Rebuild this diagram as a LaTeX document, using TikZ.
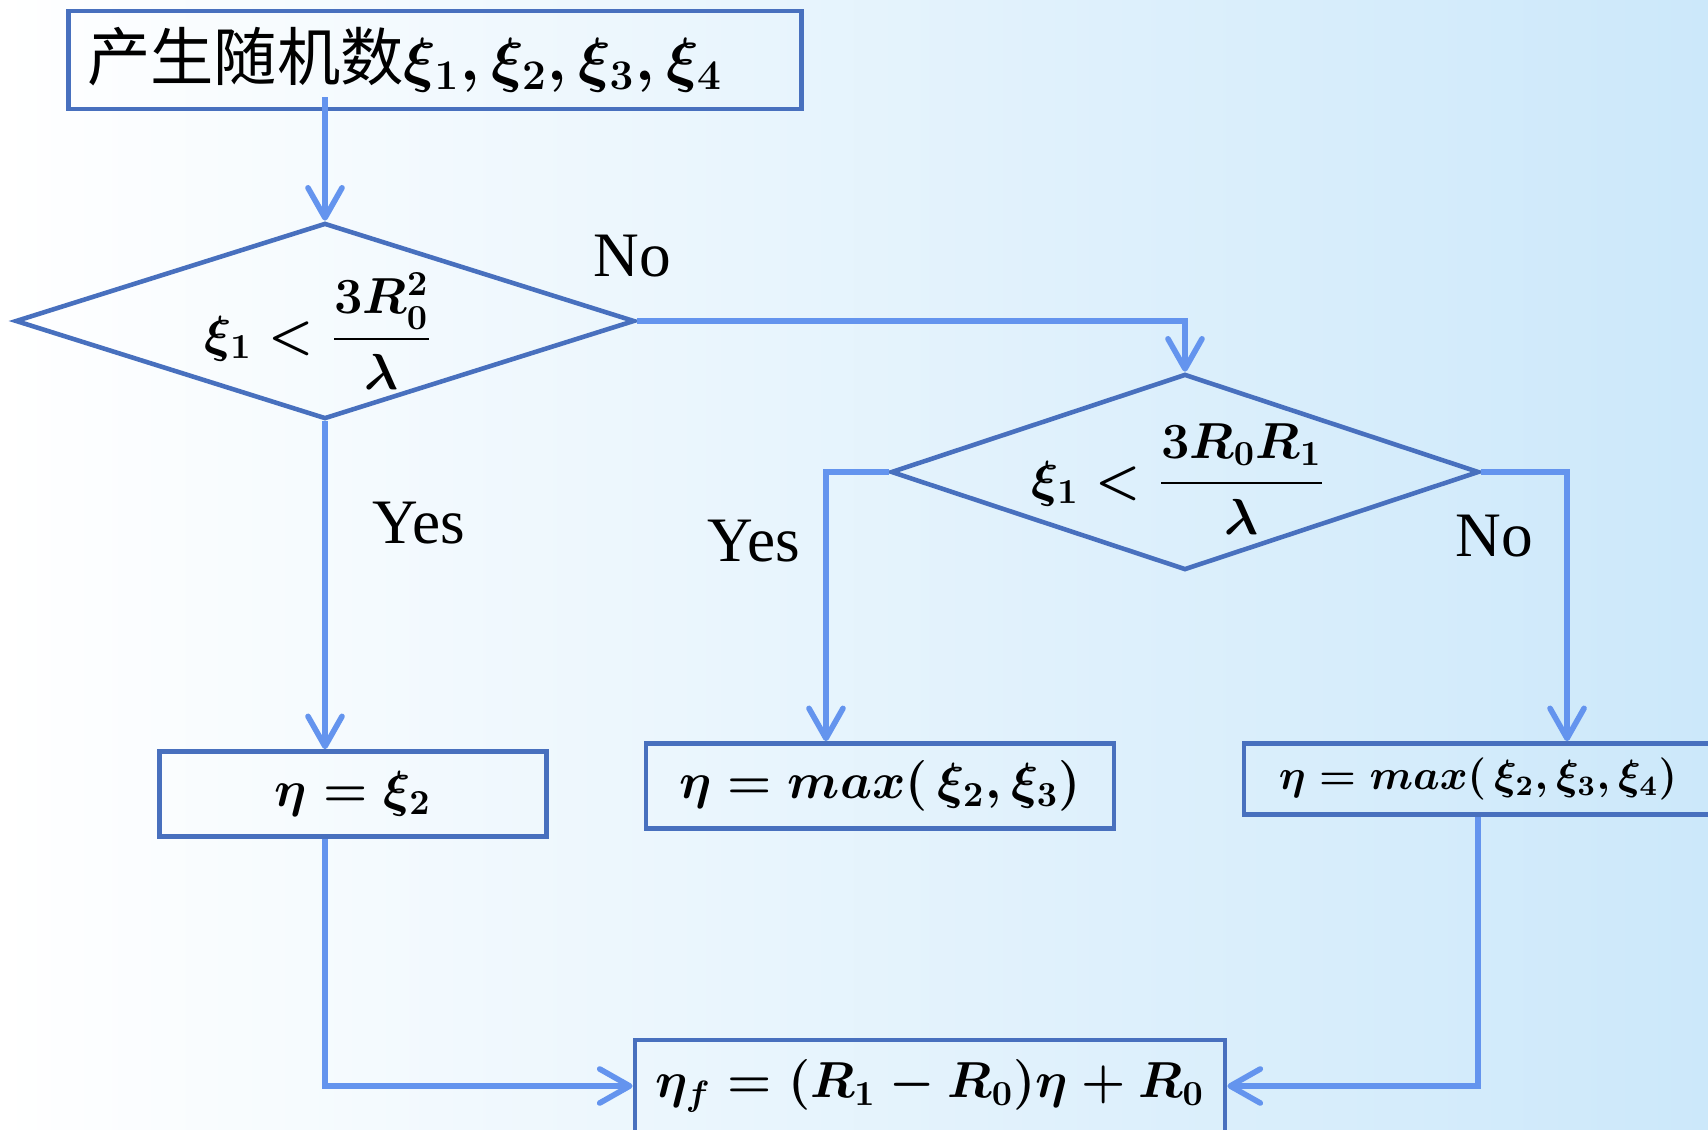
\documentclass[tikz,border=0pt]{standalone}
\usepackage{amsmath}
\usepackage{fontspec}
\setmainfont{Liberation Serif}
\newfontfamily\cjk{Noto Sans CJK SC}
\usetikzlibrary{shapes.geometric,arrows.meta}

\definecolor{boxblue}{RGB}{72,112,190}
\definecolor{arrblue}{RGB}{100,148,238}
\definecolor{bgblue}{RGB}{204,232,250}

\begin{document}
\begin{tikzpicture}[x=0.01cm, y=-0.01cm,
  box/.style={draw=boxblue, line width=1.3pt, inner sep=0pt, font=\fontsize{14}{17}\selectfont\boldmath},
  cond/.style={diamond, draw=boxblue, line width=1.3pt, inner sep=0pt},
  condtext/.style={font=\fontsize{14}{17}\selectfont\boldmath},
  arr/.style={draw=arrblue, line width=1.6pt, -{Straight Barb[length=3mm,width=3.4mm,round]}},
  lbl/.style={font=\fontsize{18}{20}\selectfont}]
% background, white to light blue
\shade[left color=white, right color=bgblue] (0,0) rectangle (1708,1130);
\useasboundingbox (0,0) rectangle (1708,1130);

\node[box, minimum width=7.33cm, minimum height=0.98cm, inner xsep=0.19cm, text width=6.95cm, align=left,
  font=\fontsize{18}{22}\selectfont] (start) at (435,60) {{\cjk 产生随机数}{\boldmath$\xi_1,\xi_2,\xi_3,\xi_4$}};

% the two tests
\node[cond, aspect=3.16, minimum width=6.19cm, minimum height=1.96cm] (c1) at (325,321) {};
\node[condtext] (c1t) at ([xshift=-0.06cm,yshift=-0.1cm]c1.center) {$\xi_1<\dfrac{3R_0^2}{\lambda}$};
\node[cond, aspect=3, minimum width=5.88cm, minimum height=1.96cm] (c2) at (1185,472) {};
\node[condtext] (c2t) at ([xshift=-0.06cm,yshift=-0.07cm]c2.center) {$\xi_1<\dfrac{3R_0R_1}{\lambda}$};

% results
\node[box, minimum width=3.87cm, minimum height=0.85cm] (b1) at (353,794) {$\eta=\xi_2$};
\node[box, minimum width=4.68cm, minimum height=0.85cm] (b2) at (880,786) {$\eta=max(\,\xi_2,\xi_3)$};
\node[box, minimum width=4.68cm, minimum height=0.71cm, font=\fontsize{12}{15}\selectfont\boldmath] (b3) at (1478,779) {$\eta=max(\,\xi_2,\xi_3,\xi_4)$};
\node[box, minimum width=5.9cm, minimum height=0.92cm] (fin) at (930,1086) {$\eta_f=(R_1-R_0)\eta+R_0$};

% connectors
\draw[arr] ([yshift=0.14cm]start.south -| c1.north) -- (c1.north);
\draw[arr] (c1.south) -- (c1.south |- b1.north);
\draw[arr] (c1.east) -| (c2.north);
\draw[arr] (c2.west) -| ([xshift=-0.54cm]b2.north);
\draw[arr] (c2.east) -| ([xshift=0.89cm]b3.north);
\draw[arr] (c1.south |- b1.south) |- (fin.west);
\draw[arr] (b3.south) |- (fin.east);

\node[lbl] (no1) at (632,256) {No};
\node[lbl] (yes1) at (419,523) {Yes};
\node[lbl] (yes2) at (754,541) {Yes};
\node[lbl] (no2) at (1494,536) {No};
\end{tikzpicture}
\end{document}
